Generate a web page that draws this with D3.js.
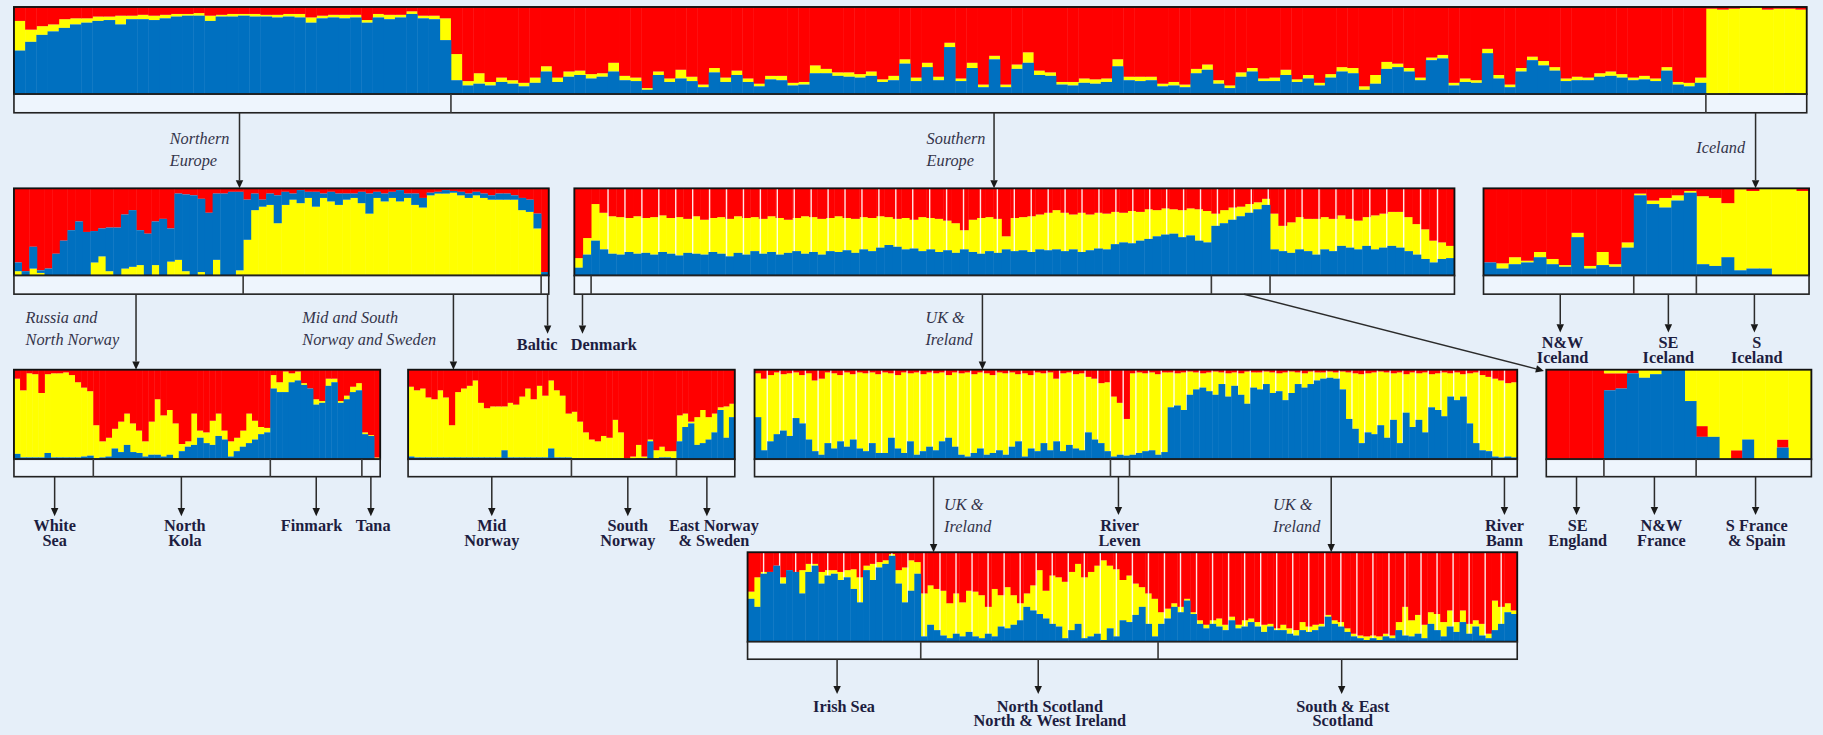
<!DOCTYPE html>
<html>
<head>
<meta charset="utf-8">
<script src="https://cdn.jsdelivr.net/npm/d3@7"></script>
<style>
  html, body { margin: 0; padding: 0; background: #e6eff9; }
  svg { display: block; }
  .bold { font-family: "Liberation Serif", "DejaVu Serif", serif; font-weight: bold; fill: #1d1d40; font-size: 14px; }
  .ital { font-family: "Liberation Serif", "DejaVu Serif", serif; font-style: italic; fill: #34344a; font-size: 14px; }
</style>
</head>
<body>
<div id="chart"></div>
<script>
// ---- membership (%) per individual ----
// top: all samples  (groups: northern, southern, iceland)
var allGroups = [39, 112, 9];
var allBlue = [
  50,60,68,72,76,80,82,84,85,80,86,86,85,87,89,90,90,84,89,89,90,89,89,88,89,88,82,87,88,87,88,82,88,86,88,92,87,86,62,
  16,10,12,10,14,12,9,13,26,14,20,22,18,20,26,16,15,5,22,14,18,15,8,25,14,22,14,9,17,16,10,11,24,24,21,20,19,21,14,16,
  35,15,31,16,54,15,30,8,40,8,29,36,22,21,11,10,13,12,14,32,16,15,16,9,10,8,24,28,12,7,20,26,15,15,22,14,18,10,19,26,
  24,5,12,29,31,26,16,39,41,10,14,13,47,18,8,26,39,33,27,15,16,16,20,21,19,16,17,15,27,11,9,13,
  0,0,1,0,0,0,0,1,0];
var allYellow = [
  34,14,10,8,10,7,5,5,4,10,4,5,5,4,3,2,3,6,2,3,2,3,2,3,3,4,6,3,3,4,3,3,4,5,3,3,3,4,25,
  30,5,12,4,5,4,4,6,6,5,6,5,5,4,10,5,4,2,4,4,10,5,3,5,5,5,4,3,4,5,3,3,9,5,4,5,4,5,3,5,
  5,4,5,4,5,3,6,3,4,3,5,12,5,4,3,4,5,5,4,8,4,5,4,3,4,3,5,6,4,3,5,4,3,4,6,3,4,3,4,5,
  6,4,10,8,4,4,3,3,4,3,4,3,5,4,3,4,4,5,4,3,4,3,4,5,4,3,4,3,4,3,4,6,
  98,97,97,99,100,97,98,97,97];

// northern europe  (russia & north norway, mid & south norway and sweden, baltic)
var northGroups = [30, 39, 1];
var northYellow = [
  5,0,8,3,0,0,0,0,0,0,15,22,5,0,8,10,12,0,12,0,16,18,5,0,4,0,18,0,0,6,
  41,75,79,81,60,81,87,83,89,79,89,85,81,87,89,83,71,89,85,89,85,89,81,78,92,94,94,95,92,89,92,89,87,87,87,87,75,73,54,
  0];
var northBlue = [
  10,5,25,3,8,25,40,52,62,50,36,32,50,55,62,65,40,48,50,65,38,76,88,92,84,72,76,94,96,90,
  46,19,8,13,32,15,7,15,7,17,5,11,13,7,5,13,23,7,9,7,13,5,13,11,3,2,4,2,4,5,4,5,5,7,7,5,14,14,17,
  4];

// southern europe  (denmark, uk & ireland, se england/france/spain, uk & ireland)
var southGroups = [2, 74, 7, 22];
var southPops = 51;
var southBlue = [
  9,24,
  40,30,25,24,27,25,26,24,27,25,23,26,25,24,27,25,22,26,24,28,25,27,24,26,28,25,27,24,28,27,
  29,26,30,28,32,35,33,30,31,28,30,27,29,26,30,27,25,28,26,30,28,29,27,30,29,30,28,30,27,29,
  31,30,36,38,37,40,42,45,47,48,44,46,40,38,
  57,60,64,68,72,76,81,
  30,28,26,30,28,24,30,28,34,32,30,34,30,32,34,32,28,24,19,15,19,20];
var southYellow = [
  11,19,
  42,42,43,43,39,43,40,43,42,41,44,39,43,40,39,42,43,42,42,39,40,41,42,38,38,43,40,41,38,41,
  37,39,37,38,36,32,32,36,33,39,36,38,34,34,22,37,41,39,39,15,38,38,41,40,43,45,44,40,45,41,
  41,41,37,34,37,33,34,30,30,28,31,31,36,36,
  14,15,14,11,10,8,7,
  41,29,35,37,37,41,37,37,35,33,33,33,39,39,39,41,39,35,34,25,19,14];

// iceland  (n&w, se, s)
var iceGroups = [12, 5, 9];
var iceBlue = [15,8,13,15,21,13,10,44,8,12,10,32, 92,82,78,86,95, 13,11,21,6,8,8,0,0,0];
var iceYellow = [0,6,8,2,6,6,2,5,3,15,3,6, 2,4,11,6,2, 78,78,62,93,89,92,100,100,97];

// russia and north norway  (white sea, north kola, finmark, tana)
var russiaGroups = [13, 29, 15, 3];
var russiaBlue = [
  6,2,2,2,2,7,2,2,2,2,2,3,4,
  1,2,3,12,8,16,8,7,3,5,5,3,5,1,9,14,16,24,18,16,26,22,3,9,14,18,22,28,30,
  79,75,75,86,88,83,79,61,63,82,86,63,67,75,77,
  28,26,0];
var russiaYellow = [
  84,75,94,93,72,88,94,94,95,92,84,77,72,
  37,18,21,22,34,35,32,25,17,37,62,46,50,39,8,6,35,8,12,27,25,10,17,15,18,33,21,8,5,
  15,11,23,10,10,2,0,6,2,8,4,2,4,6,8,
  2,1,2];

// mid and south norway and sweden  (mid norway, south norway, east norway & sweden)
var norwayGroups = [28, 18, 10];
var norwayBlue = [
  3,2,2,2,2,2,2,2,2,2,2,2,2,2,2,2,10,2,2,2,2,2,2,2,12,2,2,2,
  1,1,1,1,1,1,1,1,1,0,0,1,0,20,1,2,2,1,
  20,36,40,16,18,22,30,55,24,47];
var norwayYellow = [
  78,75,77,67,65,75,67,36,73,77,80,86,61,55,57,57,49,61,59,68,77,65,80,69,76,75,69,49,
  52,41,29,21,19,25,23,43,29,1,3,15,3,2,9,12,7,8,
  29,15,2,31,37,25,21,3,35,15];

// uk & ireland  (uk & ireland, river leven, uk & ireland, river bann)
var ukGroups = [56, 3, 57, 4];
var ukPops = 60;
var ukBlue = [
  47,10,20,28,32,26,46,40,22,9,5,18,12,20,14,22,12,9,18,7,7,24,12,7,20,5,9,14,10,20,
  24,14,5,3,7,12,5,7,10,5,14,20,3,12,9,18,10,20,9,16,12,10,30,22,18,9,
  3,5,4,
  5,7,9,10,5,8,58,60,55,72,78,80,76,72,84,70,82,72,62,80,78,84,74,76,66,74,84,80,84,88,
  90,91,90,78,45,34,18,30,28,38,24,44,18,52,36,44,30,58,55,48,70,66,70,40,18,10,9,
  3,2,3,2];
var ukRed = [
  4,10,6,3,5,4,3,6,4,12,10,3,4,6,3,5,3,4,3,5,3,4,6,3,4,3,5,3,4,3,
  6,3,4,3,5,3,4,6,3,4,3,5,4,6,3,4,3,10,4,3,5,4,8,10,15,14,
  30,37,55,
  4,3,4,3,5,3,3,4,3,2,3,4,3,2,3,4,3,4,2,3,3,2,3,4,3,2,3,4,2,3,
  3,2,3,2,3,4,5,4,3,2,3,4,3,5,3,4,3,5,4,3,4,3,5,4,3,6,8,10,12,15,14,
  90,88,85,72];

// se england, n&w france, s france & spain
var franceGroups = [5, 8, 10];
var franceBlue = [0,0,0,0,0, 77,79,96,91,95,100,100,65, 25,25,0,0,22,0,0,13,0,0];
var franceRed = [100,100,100,100,100, 19,17,4,0,0,0,0,0, 12,0,0,10,0,0,0,9,0,0];

// uk & ireland second level  (irish sea, north scotland/n&w ireland, south & east scotland)
var scotGroups = [27, 37, 56];
var scotPops = 48;
var scotBlue = [
  48,39,76,78,85,65,80,78,54,78,85,65,74,76,69,72,59,44,80,69,83,87,96,65,44,57,76,
  6,19,13,7,4,9,6,11,6,4,9,6,17,15,19,24,39,35,31,26,20,17,4,13,20,4,6,9,2,15,6,24,22,30,39,20,6,
  20,26,39,33,46,31,20,15,20,17,13,24,15,17,22,17,11,17,13,13,9,7,13,11,13,17,28,20,17,11,
  6,4,2,4,2,6,4,13,7,6,9,4,20,13,6,17,11,22,9,17,7,4,13,20,33,31];
var scotRed = [
  44,28,22,22,15,28,20,22,20,13,13,22,20,20,22,20,19,28,15,13,11,9,2,20,17,9,11,
  46,37,41,43,57,46,56,43,44,48,61,41,48,39,48,57,46,37,20,43,26,28,33,22,13,28,22,15,9,15,19,31,26,35,39,46,52,
  67,63,57,61,52,67,76,81,76,74,81,72,81,76,74,78,81,80,85,81,85,87,78,83,81,80,70,76,78,85,
  91,93,94,93,94,91,93,78,61,76,70,81,67,69,78,65,78,65,80,76,80,91,54,61,57,65];

// ---- sub-population names ----
var allNames = [['Northern', 'Europe'], ['Southern', 'Europe'], ['Iceland']];
var northNames = [['Russia and', 'North Norway'], ['Mid and South', 'Norway and Sweden'], ['Baltic']];
var southNames = [['Denmark'], ['UK &', 'Ireland'], []];
var iceNames = [['N&W', 'Iceland'], ['SE', 'Iceland'], ['S', 'Iceland']];
var russiaNames = [['White', 'Sea'], ['North', 'Kola'], ['Finmark'], ['Tana']];
var norwayNames = [['Mid', 'Norway'], ['South', 'Norway'], ['East Norway', '& Sweden']];
var ukNames = [['UK &', 'Ireland'], ['River', 'Leven'], ['UK &', 'Ireland'], ['River', 'Bann']];
var franceNames = [['SE', 'England'], ['N&W', 'France'], ['S France', '& Spain']];
var scotNames = [['Irish Sea'], ['North Scotland', 'North & West Ireland'], ['South & East', 'Scotland']];

var colours = {blue: '#0070c0', yellow: '#ffff00', red: '#ff0000'};

// layout is in units of a 1568 wide drawing, scaled up to the page
var K = 1823 / 1568;

var panels = [
  {values: {blue: allBlue, yellow: allYellow}, groups: allGroups, order: ['blue', 'yellow', 'red'],
    box: [12, 1554, 6, 81, 97], names: allNames,
    arrows: [
      {x: 206, to: 162, tx: 146, ty: 124, style: 'ital', anchor: 'start'},
      {x: 855, to: 162, tx: 797, ty: 124, style: 'ital', anchor: 'start'},
      {x: 1510, to: 162, tx: 1459, ty: 132, style: 'ital', anchor: 'start'}]},
  {values: {blue: northBlue, yellow: northYellow}, groups: northGroups, order: ['yellow', 'blue', 'red'],
    box: [12, 472, 162, 237, 253], names: northNames,
    arrows: [
      {x: 117, to: 318, tx: 22, ty: 278, style: 'ital', anchor: 'start'},
      {x: 390, to: 318, tx: 260, ty: 278, style: 'ital', anchor: 'start'},
      {x: 471, to: 287, tx: 462, ty: 301, style: 'bold', anchor: 'middle'}]},
  {values: {blue: southBlue, yellow: southYellow}, groups: southGroups, order: ['blue', 'yellow', 'red'],
    box: [494, 1251, 162, 237, 253], names: southNames, pops: southPops, popStart: 2,
    arrows: [
      {x: 501, to: 287, tx: 491, ty: 301, style: 'bold', anchor: 'start'},
      {x: 845, to: 318, tx: 796, ty: 278, style: 'ital', anchor: 'start'},
      {x: 1070, x2: 1328, to: 319}]},
  {values: {blue: iceBlue, yellow: iceYellow}, groups: iceGroups, order: ['blue', 'yellow', 'red'],
    box: [1276, 1556, 162, 237, 253], names: iceNames,
    arrows: [
      {x: 1342, to: 286, tx: 1344, ty: 299, style: 'bold', anchor: 'middle'},
      {x: 1435, to: 286, tx: 1435, ty: 299, style: 'bold', anchor: 'middle'},
      {x: 1509, to: 286, tx: 1511, ty: 299, style: 'bold', anchor: 'middle'}]},
  {values: {blue: russiaBlue, yellow: russiaYellow}, groups: russiaGroups, order: ['blue', 'yellow', 'red'],
    box: [12, 327, 318, 395, 410], names: russiaNames,
    arrows: [
      {x: 47, to: 444, tx: 47, ty: 457, style: 'bold', anchor: 'middle'},
      {x: 156, to: 444, tx: 159, ty: 457, style: 'bold', anchor: 'middle'},
      {x: 272, to: 444, tx: 268, ty: 457, style: 'bold', anchor: 'middle'},
      {x: 319, to: 444, tx: 321, ty: 457, style: 'bold', anchor: 'middle'}]},
  {values: {blue: norwayBlue, yellow: norwayYellow}, groups: norwayGroups, order: ['blue', 'yellow', 'red'],
    box: [351, 632, 318, 395, 410], names: norwayNames,
    arrows: [
      {x: 423, to: 444, tx: 423, ty: 457, style: 'bold', anchor: 'middle'},
      {x: 540, to: 444, tx: 540, ty: 457, style: 'bold', anchor: 'middle'},
      {x: 608, to: 444, tx: 614, ty: 457, style: 'bold', anchor: 'middle'}]},
  {values: {blue: ukBlue, red: ukRed}, groups: ukGroups, order: ['blue', 'yellow', 'red'],
    box: [649, 1305, 318, 395, 410], names: ukNames, pops: ukPops, popStart: 0,
    arrows: [
      {x: 803, to: 475, tx: 812, ty: 439, style: 'ital', anchor: 'start'},
      {x: 962, to: 443, tx: 963, ty: 457, style: 'bold', anchor: 'middle'},
      {x: 1145, to: 475, tx: 1095, ty: 439, style: 'ital', anchor: 'start'},
      {x: 1294, to: 443, tx: 1294, ty: 457, style: 'bold', anchor: 'middle'}]},
  {values: {blue: franceBlue, red: franceRed}, groups: franceGroups, order: ['blue', 'red', 'yellow'],
    box: [1330, 1558, 318, 395, 410], names: franceNames,
    arrows: [
      {x: 1356, to: 443, tx: 1357, ty: 457, style: 'bold', anchor: 'middle'},
      {x: 1423, to: 443, tx: 1429, ty: 457, style: 'bold', anchor: 'middle'},
      {x: 1510, to: 443, tx: 1511, ty: 457, style: 'bold', anchor: 'middle'}]},
  {values: {blue: scotBlue, red: scotRed}, groups: scotGroups, order: ['blue', 'yellow', 'red'],
    box: [643, 1305, 475, 552, 567], names: scotNames, pops: scotPops, popStart: 0,
    arrows: [
      {x: 720, to: 597, tx: 726, ty: 612, style: 'bold', anchor: 'middle'},
      {x: 893, to: 597, tx: 903, ty: 612, style: 'bold', anchor: 'middle'},
      {x: 1154, to: 597, tx: 1155, ty: 612, style: 'bold', anchor: 'middle'}]}
];

var svg = d3.select('#chart').append('svg')
  .attr('width', 1823)
  .attr('height', 735);
svg.append('rect').attr('width', 1823).attr('height', 735).attr('fill', '#e6eff9');
var root = svg.append('g').attr('transform', 'scale(' + K + ')');

function drawArrow(g, xa, ya, xb, yb) {
  var ang = Math.atan2(yb - ya, xb - xa), len = 7, half = 3.2;
  var bx = xb - len * Math.cos(ang), by = yb - len * Math.sin(ang);
  var px = -Math.sin(ang) * half, py = Math.cos(ang) * half;
  g.append('line')
    .attr('x1', xa).attr('y1', ya).attr('x2', bx).attr('y2', by)
    .attr('stroke', '#2b2b2b').attr('stroke-width', 1.3);
  g.append('path')
    .attr('d', 'M' + xb + ',' + yb + 'L' + (bx + px) + ',' + (by + py) + 'L' + (bx - px) + ',' + (by - py) + 'Z')
    .attr('fill', '#1a1a1a');
}

function drawNote(g, a, lines) {
  if (!lines || !lines.length) return;
  var lead = a.style === 'ital' ? 19 : 12.8;
  var t = g.append('text')
    .attr('class', a.style)
    .attr('x', a.tx).attr('y', a.ty)
    .attr('text-anchor', a.anchor);
  lines.forEach(function (s, i) {
    t.append('tspan').attr('x', a.tx).attr('dy', i ? lead : 0).text(s);
  });
}

function drawPanel(p) {
  var g = root.append('g');
  var n = d3.sum(p.groups);
  var keys = Object.keys(p.values);
  var rest = ['blue', 'yellow', 'red'].filter(function (k) { return keys.indexOf(k) < 0; })[0];
  keys.forEach(function (k) {
    if (p.values[k].length !== n) console.warn('length mismatch', k, p.values[k].length, n);
  });
  var rows = d3.range(n).map(function (i) {
    var r = {}, known = 0;
    keys.forEach(function (k) { r[k] = p.values[k][i]; known += r[k]; });
    r[rest] = Math.max(0, 100 - known);
    return r;
  });

  var x0 = p.box[0], x1 = p.box[1], top = p.box[2], base = p.box[3], foot = p.box[4];
  var x = d3.scaleLinear().domain([0, n]).range([x0, x1]);
  var y = d3.scaleLinear().domain([0, 100]).range([base, top]);
  var series = d3.stack().keys(p.order)(rows);

  function layer(s) {
    g.append('g').selectAll('rect')
      .data(s)
      .join('rect')
      .attr('x', function (d, i) { return x(i); })
      .attr('width', function (d, i) { return x(i + 1) - x(i) + 0.35; })
      .attr('y', function (d) { return y(d[1]); })
      .attr('height', function (d) { return Math.max(0, y(d[0]) - y(d[1])); })
      .attr('fill', colours[s.key]);
  }

  // blue goes last so the white population lines only show through red and yellow
  series.filter(function (s) { return s.key !== 'blue'; }).forEach(layer);
  if (p.pops) {
    var sx = x(p.popStart), step = (x1 - sx) / p.pops;
    g.append('g').selectAll('line')
      .data(d3.range(1, p.pops))
      .join('line')
      .attr('x1', function (k) { return sx + k * step; })
      .attr('x2', function (k) { return sx + k * step; })
      .attr('y1', top).attr('y2', base)
      .attr('stroke', '#ffffff').attr('stroke-opacity', 0.9).attr('stroke-width', 1.2);
  }
  series.filter(function (s) { return s.key === 'blue'; }).forEach(layer);

  // frame
  g.append('rect')
    .attr('x', x0).attr('y', top).attr('width', x1 - x0).attr('height', base - top)
    .attr('fill', 'none').attr('stroke', '#111').attr('stroke-width', 1.6);
  // group bar
  g.append('rect')
    .attr('x', x0).attr('y', base).attr('width', x1 - x0).attr('height', foot - base)
    .attr('fill', '#eef5fd').attr('stroke', '#222').attr('stroke-width', 1.4);
  var cuts = d3.cumsum(p.groups).slice(0, -1);
  g.append('g').selectAll('line')
    .data(cuts)
    .join('line')
    .attr('x1', function (c) { return x(c); })
    .attr('x2', function (c) { return x(c); })
    .attr('y1', base).attr('y2', foot)
    .attr('stroke', '#3a3a3a').attr('stroke-width', 1.4);

  // arrows and names
  p.arrows.forEach(function (a, i) {
    if (a.x2 !== undefined) {
      drawArrow(g, a.x, foot, a.x2, a.to);
    } else {
      drawArrow(g, a.x, foot, a.x, a.to);
    }
    drawNote(g, a, p.names[i]);
  });
}

panels.forEach(drawPanel);
</script>
</body>
</html>
